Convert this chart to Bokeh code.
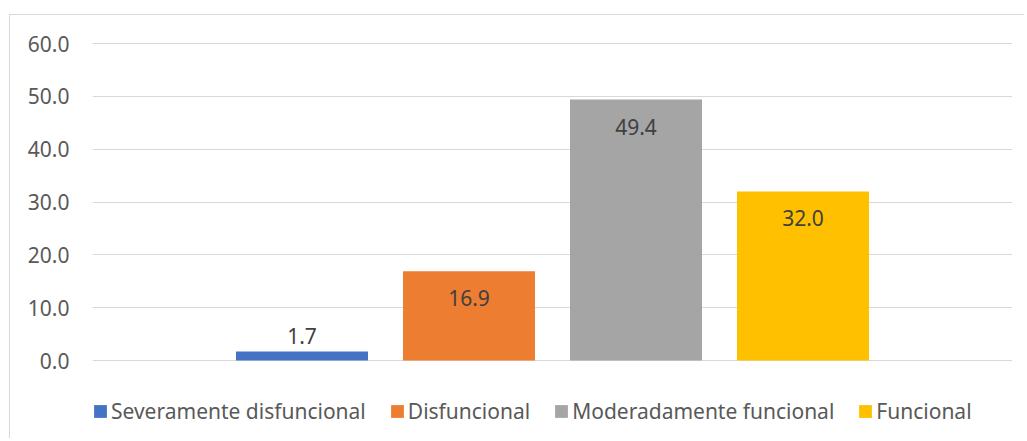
from bokeh.plotting import figure
from bokeh.models import (Range1d, FactorRange, ColumnDataSource, LabelSet, Legend,
                          FixedTicker, NumeralTickFormatter)
from bokeh.core.properties import value
from bokeh.transform import dodge
from bokeh.embed import file_html
from bokeh.resources import INLINE

category = ["Nivel"]
series = ["Severamente disfuncional", "Disfuncional", "Moderadamente funcional", "Funcional"]
values = [1.7, 16.9, 49.4, 32.0]
colors = ["#4472C4", "#ED7D31", "#A5A5A5", "#FFC000"]
y_ticks = [0, 10, 20, 30, 40, 50, 60]

FONT = "Noto Sans"
W, H = 1015, 424
TOP, BOTTOM = 25, 5            # borders around the frame (px)
PPU = 317 / 60                 # pixels per value unit, as in the reference
frame_h = H - TOP - BOTTOM
y_end = y_ticks[-1] + 3 / PPU
y_start = y_end - frame_h / PPU   # room under zero for the legend

p = figure(width=W, height=H, x_range=FactorRange(factors=category, range_padding=0),
           y_range=Range1d(y_start, y_end), output_backend="svg", toolbar_location=None,
           min_border_left=82, min_border_right=13, min_border_top=TOP, min_border_bottom=BOTTOM)
p.margin = (14, 0, 0, 9)
p.styles = {"border-left": "1px solid #d9d9d9", "border-top": "1px solid #d9d9d9"}
p.outline_line_color = None
p.background_fill_color = "white"
p.border_fill_color = "white"

bar_w = 132 / 920
step = 167 / 920
n = len(series)
items = []
for i, (s, v, c) in enumerate(zip(series, values, colors)):
    off = (i - (n - 1) / 2) * step
    src = ColumnDataSource(dict(cat=category, val=[v], t=[f"{v:.1f}"],
                                yo=[-27 if v > 5 else 16]))
    r = p.vbar(x=dodge("cat", off, range=p.x_range), top="val", bottom=0, width=bar_w,
               source=src, fill_color=c, line_color=None)
    items.append((s, [r]))
    p.add_layout(LabelSet(x=dodge("cat", off, range=p.x_range), y="val", text="t",
                          y_offset="yo", source=src, text_align="center", text_baseline="middle",
                          text_font=value(FONT), text_font_size=value("21px"),
                          text_color="#404040"))

p.xaxis.visible = False
p.xgrid.visible = False
p.yaxis.ticker = FixedTicker(ticks=y_ticks)
p.ygrid.ticker = FixedTicker(ticks=y_ticks)
p.ygrid.grid_line_color = "#d9d9d9"
p.ygrid.grid_line_width = 1
p.yaxis.formatter = NumeralTickFormatter(format="0.0")
p.yaxis.axis_line_color = None
p.yaxis.major_tick_line_color = None
p.yaxis.minor_tick_line_color = None
p.yaxis.major_tick_out = 0
p.yaxis.major_tick_in = 0
p.yaxis.major_label_standoff = 23
p.yaxis.major_label_text_font = FONT
p.yaxis.major_label_text_font_size = "21px"
p.yaxis.major_label_text_color = "#595959"

legend = Legend(items=items, orientation="horizontal", location=(0, 9),
                glyph_width=16, glyph_height=16, label_standoff=3, spacing=23,
                padding=0, margin=0, border_line_color=None, background_fill_alpha=0,
                label_text_font=FONT, label_text_font_size="21px", label_text_color="#595959")
p.add_layout(legend, "center")

open("out.html", "w").write(file_html(p, INLINE))
